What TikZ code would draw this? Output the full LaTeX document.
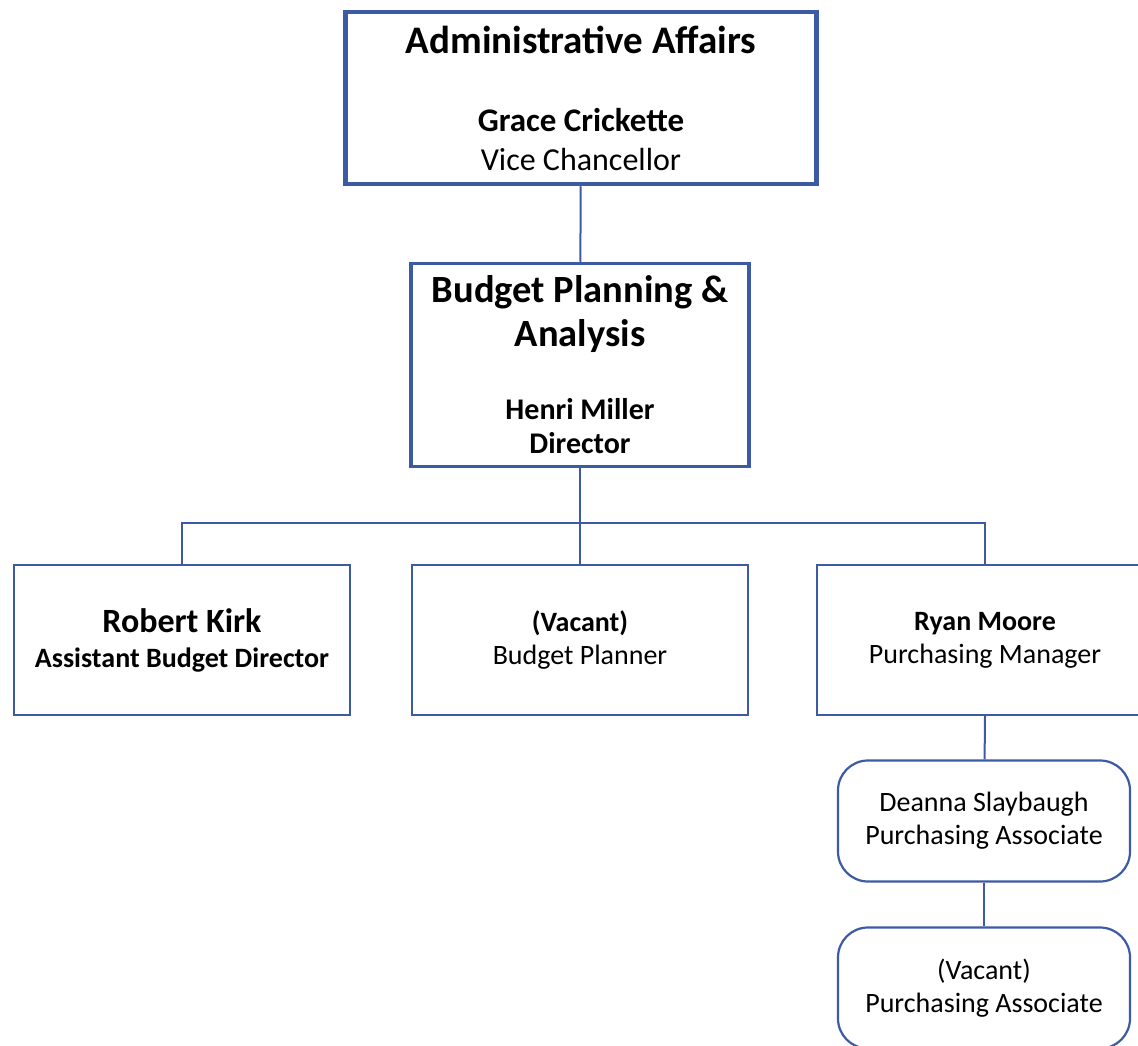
\documentclass[tikz,border=0pt]{standalone}
\usepackage{fontspec}
\setmainfont{Carlito}
\usepackage{tikz}
\usetikzlibrary{positioning, calc}

\definecolor{orgblue}{RGB}{61,90,164}

\begin{document}
\begin{tikzpicture}[x=1pt, y=-1pt]
    \tikzstyle{unit} = [draw=orgblue, line width=2.2pt, align=center,
	inner sep=0pt, minimum width=336pt, minimum height=150pt,
	font=\fontsize{28}{33}\selectfont]
    \tikzstyle{staff} = [unit, rounded corners=30pt, minimum width=292pt,
	minimum height=121pt]
    \tikzstyle{link} = [draw=orgblue, line width=2pt]

	\useasboundingbox (0,0) rectangle (1138,1046);
	\clip (0,0) rectangle (1138,1046);

	\begin{scope}
		% top of the chart
		\node[unit, line width=4.5pt, minimum width=471pt, minimum height=172pt,
			font=\fontsize{32}{39}\selectfont] (VC) at (581,98)
			{{\fontsize{39}{39}\selectfont\bfseries Administrative Affairs}\\[39pt]
			{\fontsize{33}{39}\selectfont\bfseries Grace Crickette}\\
			Vice Chancellor};
		\node[unit, line width=3.5pt, minimum width=338pt, minimum height=203pt,
			font=\fontsize{30}{34}\selectfont] (BPA) at (580,365)
			{{\fontsize{38.5}{34}\selectfont\bfseries Budget Planning \&}\\[10pt]
			{\fontsize{38.5}{34}\selectfont\bfseries Analysis}\\[39pt]
			\textbf{Henri Miller}\\ \textbf{Director}};

		% direct reports
		\node[unit, font=\fontsize{28}{35}\selectfont] (RK) at (182,640)
			{{\fontsize{34}{35}\selectfont\bfseries Robert Kirk}\\
			\textbf{Assistant Budget Director}};
		\node[unit] (BP) at (580,640)
			{\textbf{(Vacant)}\\ Budget Planner};
		\node[unit] (RM) at (985,640)
			{\textbf{Ryan Moore}\\ Purchasing Manager};

		% purchasing staff
		\node[staff] (DS) at (984,821)
			{Deanna Slaybaugh\\ Purchasing Associate};
		\node[staff] (PA) at (984,988)
			{(Vacant)\\ Purchasing Associate};

		\coordinate (bar) at (580,523);

		\path[link]
			(VC) edge (BPA)
			(BPA.south) edge (bar)
			(bar) edge (BP.north)
			(RM.south) edge (DS)
			(DS) edge (PA)
		;
		\draw[link] (RK.north) |- (bar) -| (RM.north);
	\end{scope}
\end{tikzpicture}
\end{document}
